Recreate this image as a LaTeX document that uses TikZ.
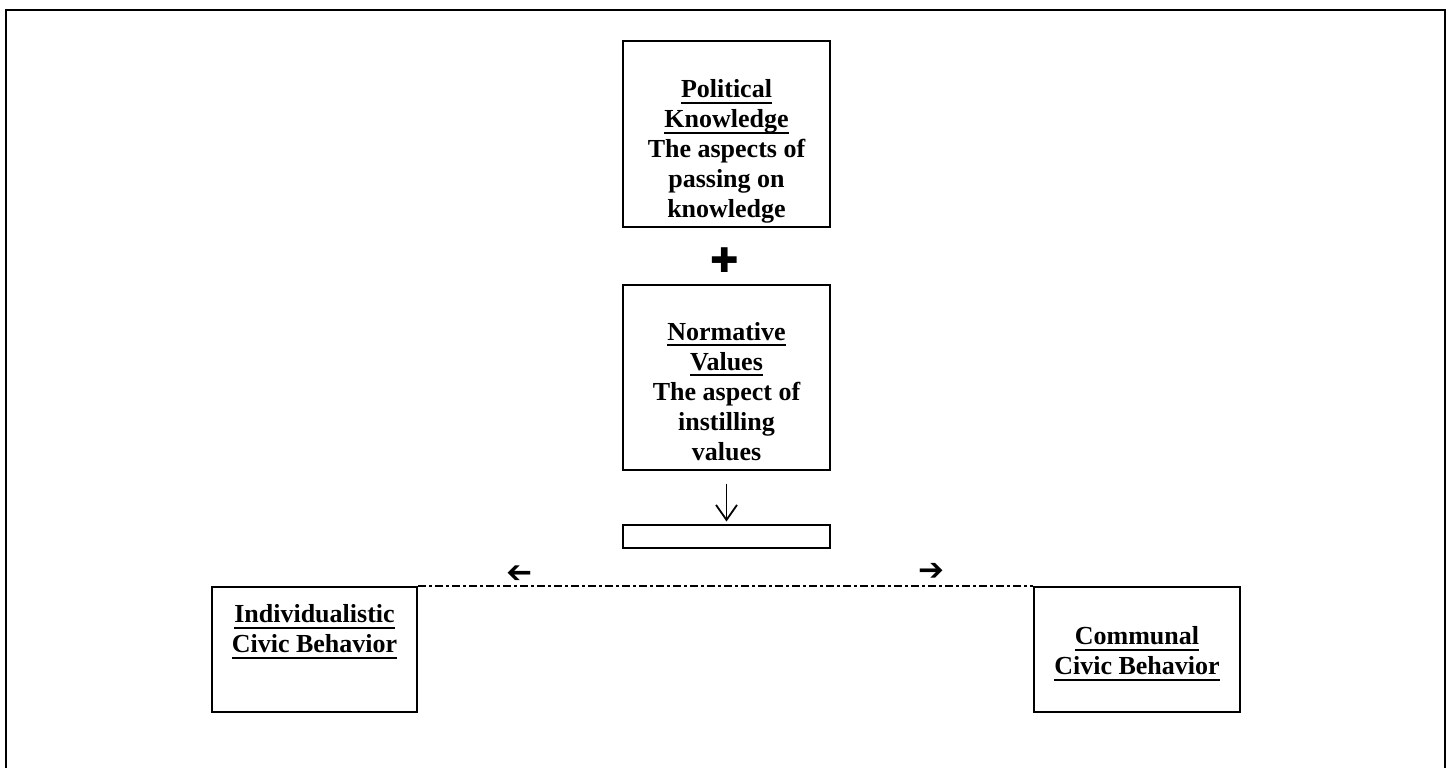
\documentclass[tikz,border=0pt]{standalone}
\usepackage{fontspec}
\setmainfont{Liberation Serif}
\newfontfamily\symfont{DejaVu Sans}
\usetikzlibrary{positioning,arrows.meta}
\newsavebox{\ulbox}
\newcommand{\ulword}[1]{\sbox{\ulbox}{#1}\rlap{\rule[-6pt]{\wd\ulbox}{2.2pt}}\usebox{\ulbox}}
\tikzset{%
  conbox/.style  = {shape=rectangle, draw, line width=2pt, inner sep=0pt,%
                    minimum width=207pt},%
  contxt/.style  = {align=center, inner sep=0pt, anchor=north,%
                    font=\fontsize{26}{30}\selectfont\bfseries},%
  glyph/.style   = {inner sep=0pt, font=\symfont\bfseries\fontsize{31}{31}\selectfont}%
}

\begin{document}
\begin{tikzpicture}[x=1pt,y=-1pt,
	sidebox/.style={conbox,minimum width=205pt,minimum height=125pt}]
		\useasboundingbox (0,0) rectangle (1452,768);
		\draw[line width=2.5pt] (6,10) rectangle (1445,790);
		% centre column
		\node[conbox, minimum height=185pt] (know) at (726.5,134) {};
		\node[contxt, below=39pt of know.north] (knowtxt)
			{\ulword{Political}\\\ulword{Knowledge}\\The aspects of\\passing on\\knowledge};
		\node[glyph, font=\symfont\fontsize{34}{34}\selectfont] (plus) at (725,260) {✚};
		\node[conbox, minimum height=185pt] (norm) at (726.5,377) {};
		\node[contxt, below=38.5pt of norm.north] (normtxt)
			{\ulword{Normative}\\\ulword{Values}\\The aspect of\\instilling\\values};
		\node[conbox, minimum height=23pt] (outcome) at (726.5,536) {};
		\draw[line width=1.8pt, -{Straight Barb[length=15pt,width=21pt]},
			shorten <=13pt, shorten >=2pt] (norm) -- (outcome);
		% the two behaviours
		\node[sidebox] (indiv) at (314.5,649.5) {};
		\node[contxt, below=18.5pt of indiv.north] (indivtxt)
			{\ulword{Individualistic}\\\ulword{Civic Behavior}};
		\node[sidebox, minimum width=206pt] (commun) at (1137,649.5) {};
		\node[contxt, below=40.5pt of commun.north] (communtxt)
			{\ulword{Communal}\\\ulword{Civic Behavior}};
		\draw[line width=1.6pt, dash pattern=on 8pt off 3pt on 3pt off 3pt]
			(indiv.north east) -- (commun.north west);
		\node[glyph, rotate=180] (toindiv) at (520,572) {➔};
		\node[glyph] (tocommun) at (931,572) {➔};
	\end{tikzpicture}
\end{document}
